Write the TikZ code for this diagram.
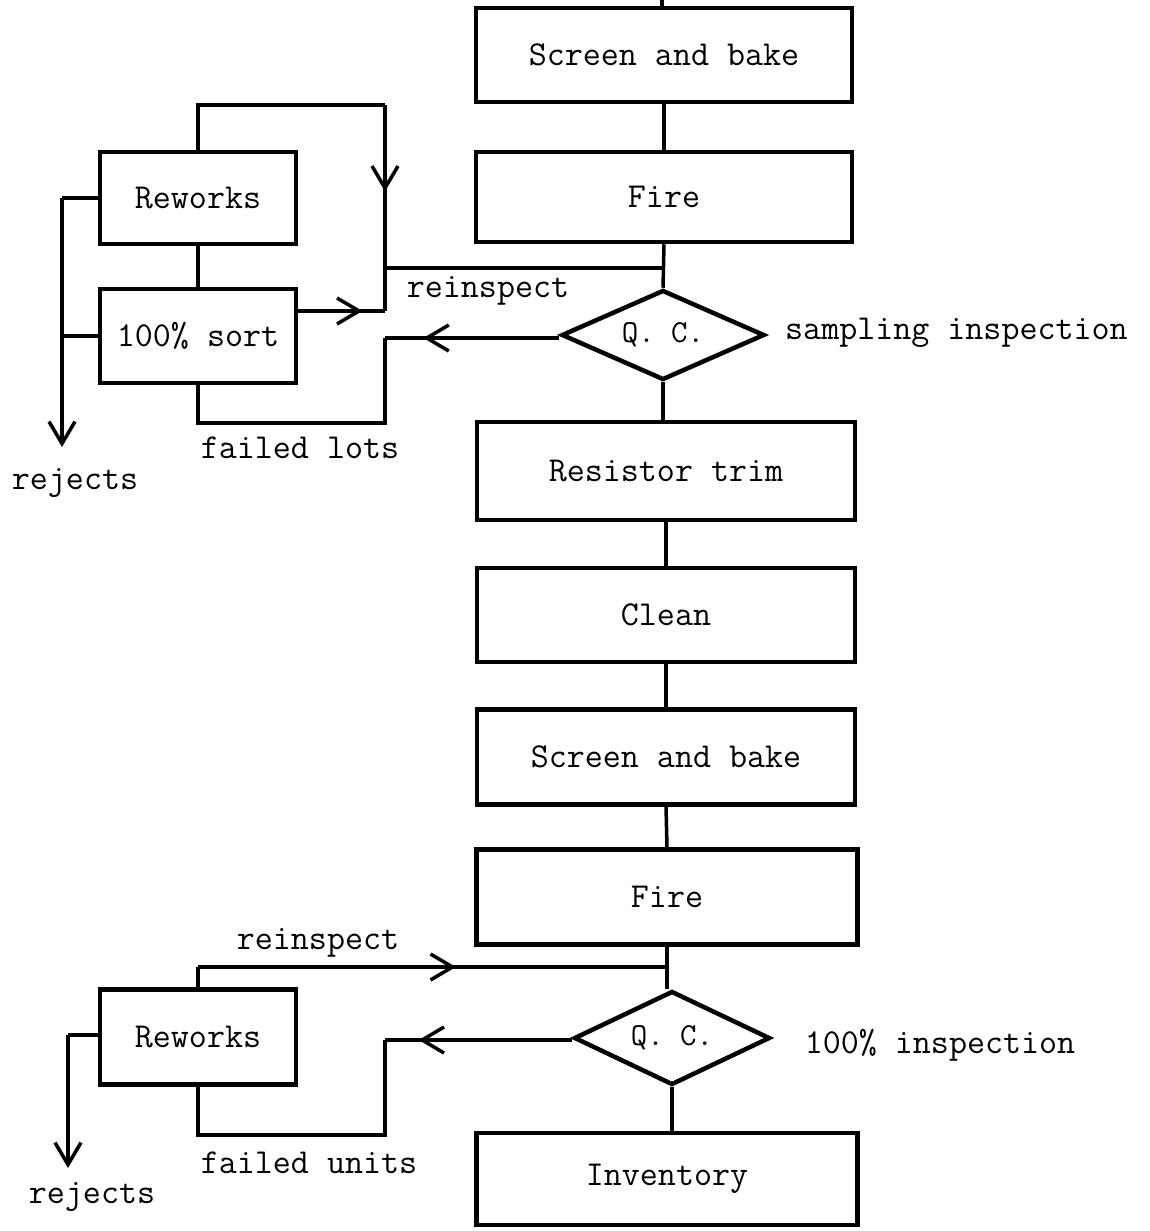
\documentclass[tikz,border=0pt]{standalone}
\usetikzlibrary{arrows.meta,decorations.markings,shapes.geometric}
\tikzset{
  barb/.tip={Straight Barb[length=22pt,width=26pt]},
  tt/.style={font=\ttfamily\fontsize{35}{35}\selectfont},
  box/.style={draw, line width=4.5pt, minimum width=378pt, minimum height=94pt, inner sep=0pt, tt},
  sbox/.style={box, minimum width=196pt},
  qc/.style={draw, diamond, line width=4.5pt, minimum width=203pt, minimum height=90pt, inner sep=0pt, aspect=2.2, font=\ttfamily\fontsize{32}{32}\selectfont},
  lab/.style={tt, inner sep=0pt},
  ln/.style={line width=3.5pt},
  midarr/.style={ln, postaction={decorate}, decoration={markings, mark=at position #1 with {\arrow{barb}}}},
  endarr/.style={ln, -barb},
}
\begin{document}
\begin{tikzpicture}[x=1pt,y=-1pt]
\useasboundingbox (0,0) rectangle (1150,1231);
% main column
\coordinate (in) at (662,0);
\node[box, minimum width=376pt] (sb1) at (664,55) {Screen and bake};
\node[box, minimum width=376pt, minimum height=90pt] (fire1) at (664,197) {Fire};
\node[qc] (qc1) at (663,335) {Q. C.};
\node[box, minimum height=98pt] (trim) at (666,471) {Resistor trim};
\node[box] (clean) at (666,615) {Clean};
\node[box, minimum height=95pt] (sb2) at (666,757) {Screen and bake};
\node[box, minimum width=381pt, minimum height=95pt] (fire2) at (667,897) {Fire};
\node[qc, minimum width=196pt, minimum height=94pt] (qc2) at (672,1038) {Q. C.};
\node[box, minimum width=381pt, minimum height=92pt] (inv) at (667,1179) {Inventory};

\draw[ln] (in) -- (in |- sb1.north);
\draw[ln] (sb1.south) -- (fire1.north);
\draw[ln] (fire1.south) -- (qc1.north);
\draw[ln] (qc1.south) -- (qc1.south |- trim.north);
\draw[ln] (trim.south) -- (clean.north);
\draw[ln] (clean.south) -- (sb2.north);
\draw[ln] (sb2.south) -- (fire2.north);
\draw[ln] (fire2.south) -- (fire2.south |- qc2.north);
\draw[ln] (qc2.south) -- (qc2.south |- inv.north);

% upper loop
\node[sbox, minimum height=92pt] (rw1) at (198,198) {Reworks};
\node[sbox] (sort1) at (198,336) {100\% sort};
\draw[ln] (rw1.south) -- (sort1.north);
\coordinate (t1) at (385,105);
\coordinate (m1) at (385,311);
\coordinate (r1) at (385,268);
\coordinate (main1) at (fire1.south |- r1);
\draw[ln] (rw1.north) |- (t1);
\draw[midarr=0.42] (t1) -- (m1);
\draw[midarr=0.74] (sort1.east |- m1) -- (m1);
\draw[ln] (r1) -- (main1);
\coordinate (q1l) at (385,338);
\coordinate (fb1) at (198,423);
\draw[midarr=0.78] (qc1.west |- q1l) -- (q1l);
\draw[ln] (q1l) |- (fb1) -- (sort1.south);
\coordinate (rj1t) at (62,198);
\coordinate (rj1) at (62,447);
\draw[ln] (rw1.west) -- (rj1t);
\draw[endarr] (rj1t) -- (rj1);
\draw[ln] (sort1.west) -- (sort1.west -| rj1);
\node[lab] (reinsp1) at (488,291) {reinspect};
\node[lab] (failed1) at (300,448) {failed lots};
\node[lab] (rejects1) at (75,483) {rejects};
\node[lab, anchor=west] (samp) at (785,333) {sampling inspection};

% lower loop
\node[sbox, minimum height=95pt] (rw2) at (198,1037) {Reworks};
\coordinate (ri2) at (198,967);
\coordinate (main2) at (fire2.south |- ri2);
\draw[ln] (rw2.north) -- (ri2);
\draw[midarr=0.55] (ri2) -- (main2);
\coordinate (q2l) at (385,1040);
\coordinate (fb2) at (198,1135);
\draw[midarr=0.82] (qc2.west |- q2l) -- (q2l);
\draw[ln] (q2l) |- (fb2) -- (rw2.south);
\coordinate (rj2t) at (68,1035);
\coordinate (rj2) at (68,1168);
\draw[ln] (rw2.west |- rj2t) -- (rj2t);
\draw[endarr] (rj2t) -- (rj2);
\node[lab] (reinsp2) at (318,943) {reinspect};
\node[lab] (pct) at (940,1045) {100\% inspection};
\node[lab] (failed2) at (309,1163) {failed units};
\node[lab] (rejects2) at (92,1197) {rejects};
\end{tikzpicture}
\end{document}
